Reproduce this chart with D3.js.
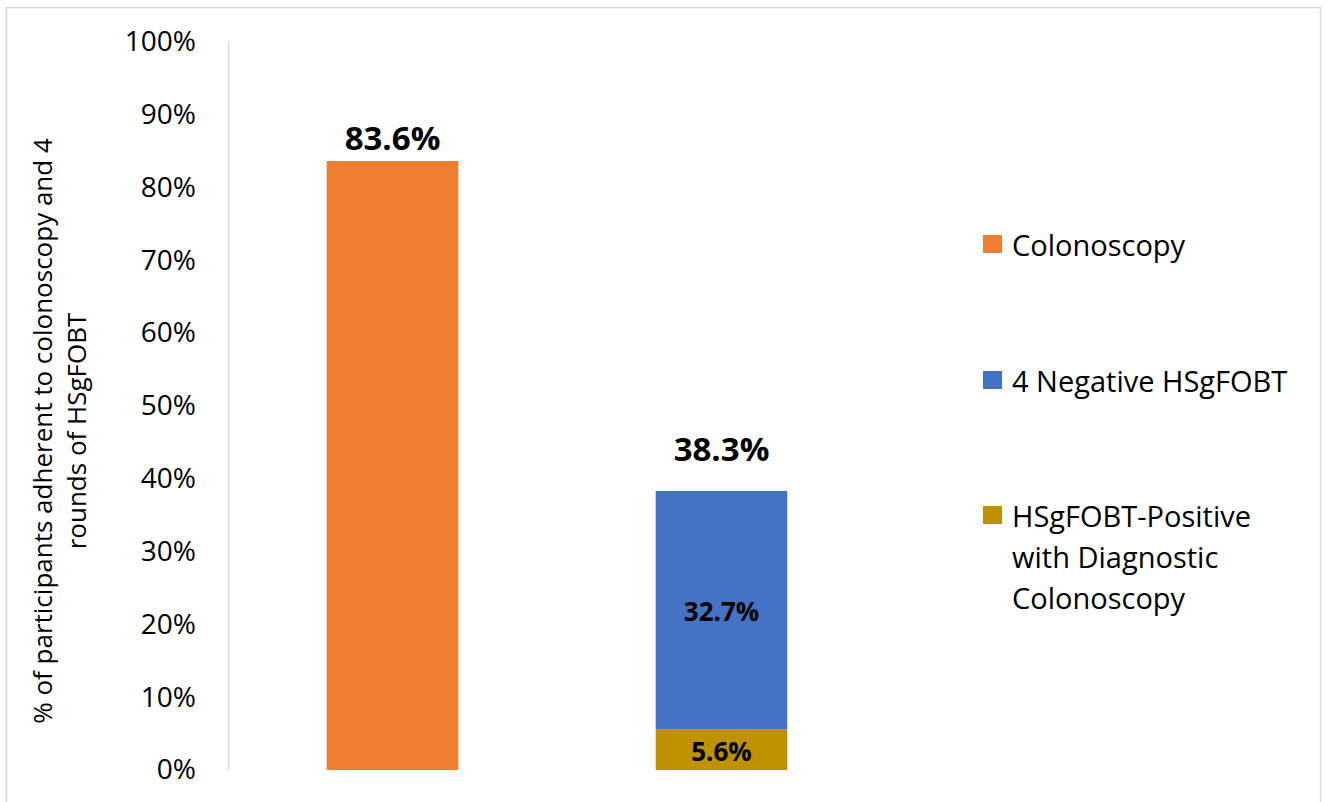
<!DOCTYPE html>
<html><head><meta charset="utf-8">
<script src="https://cdn.jsdelivr.net/npm/d3@7"></script>
<style>body{margin:0;background:#fff}svg{display:block}text{font-family:"Open Sans",sans-serif;fill:#000}</style>
</head><body><svg id="c" width="1327" height="802"></svg>
<script>
const categories = ["Colonoscopy arm", "HSgFOBT arm"];
const seriesNames = ["Colonoscopy", "4 Negative HSgFOBT", "HSgFOBT-Positive with Diagnostic Colonoscopy"];
const colonoscopy = [83.6, 0];
const negativeHSgFOBT = [0, 32.7];
const positiveWithColonoscopy = [0, 5.6];
const totals = [83.6, 38.3];
const yTicks = [0, 10, 20, 30, 40, 50, 60, 70, 80, 90, 100];
const yTitle = ["% of participants adherent to colonoscopy and 4", "rounds of HSgFOBT"];
const colors = ["#ED7D31", "#4472C4", "#BF9000"];

const svg = d3.select("#c");
svg.append("rect").attr("x",6.5).attr("y",7.5).attr("width",1314).attr("height",800)
  .attr("fill","#fff").attr("stroke","#d9d9d9").attr("stroke-width",1.5);

const y = d3.scaleLinear().domain([0,100]).range([770,41.5]);
const x = d3.scaleBand().domain(categories).range([228,886]).paddingInner(0.6).paddingOuter(0.3);

// axis
const yAxis = d3.axisLeft(y).tickValues(yTicks).tickSize(0).tickPadding(32).tickFormat(d=>d+"%");
const ga = svg.append("g").attr("transform","translate(228,0)").call(yAxis);
ga.select(".domain").attr("stroke","#d9d9d9").attr("stroke-width",1.5);
ga.selectAll("text").style("font-family","'Open Sans',sans-serif").style("font-size","28px").attr("fill","#000");

// stacked data
const rows = categories.map((c,i)=>({cat:c, s0:colonoscopy[i], s1:negativeHSgFOBT[i], s2:positiveWithColonoscopy[i]}));
const stack = d3.stack().keys(["s0","s2","s1"]);
const layers = stack(rows);
const colorByKey = {s0:colors[0], s1:colors[1], s2:colors[2]};
layers.forEach(layer=>{
  svg.append("g").selectAll("rect").data(layer.filter(d=>d[1]-d[0]>0)).join("rect")
    .attr("x",d=>x(d.data.cat)).attr("width",x.bandwidth())
    .attr("y",d=>y(d[1])).attr("height",d=>y(d[0])-y(d[1]))
    .attr("fill",colorByKey[layer.key]);
  if(layer.key!=="s0"){
    svg.append("g").selectAll("text").data(layer.filter(d=>d[1]-d[0]>0)).join("text")
      .attr("x",d=>x(d.data.cat)+x.bandwidth()/2).attr("y",d=>(y(d[0])+y(d[1]))/2+1)
      .attr("text-anchor","middle").attr("dominant-baseline","central")
      .style("font-size","26px").style("font-weight","bold")
      .text(d=>(d[1]-d[0]).toFixed(1)+"%");
  }
});

// total labels
const totalOffsets = [11, 30];
svg.append("g").selectAll("text").data(totals).join("text")
  .attr("x",(d,i)=>x(categories[i])+x.bandwidth()/2).attr("y",(d,i)=>y(d)-totalOffsets[i])
  .attr("text-anchor","middle").style("font-size","33px").style("font-weight","bold")
  .text(d=>d.toFixed(1)+"%");

// y title
const yt = svg.append("text").attr("transform","translate(52,431) rotate(-90)").attr("text-anchor","middle").style("font-size","26px");
yt.append("tspan").attr("x",0).attr("y",0).text(yTitle[0]);
yt.append("tspan").attr("x",0).attr("y",34).text(yTitle[1]);

// legend
const legendItems = [
  {lines:["Colonoscopy"], y:244, c:colors[0]},
  {lines:["4 Negative HSgFOBT"], y:380, c:colors[1]},
  {lines:["HSgFOBT-Positive","with Diagnostic","Colonoscopy"], y:515, c:colors[2]}
];
const lg = svg.append("g");
legendItems.forEach(it=>{
  lg.append("rect").attr("x",983).attr("y",it.y-9).attr("width",19).attr("height",18).attr("fill",it.c);
  const t = lg.append("text").attr("x",1012).attr("y",it.y).attr("dominant-baseline","central").style("font-size","29px");
  it.lines.forEach((l,k)=>t.append("tspan").attr("x",1012).attr("dy",k===0?0:41).text(l));
});
</script></body></html>
